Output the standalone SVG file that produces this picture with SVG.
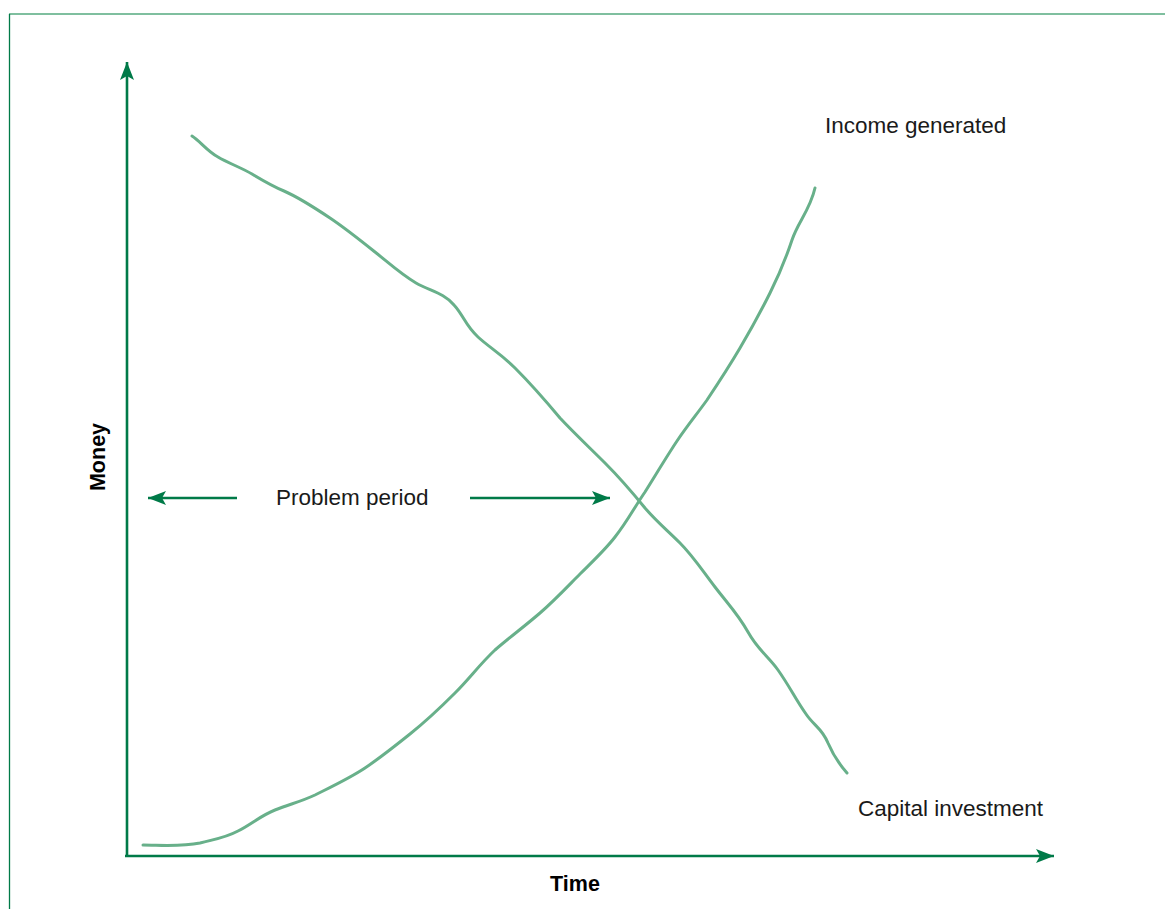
<svg xmlns="http://www.w3.org/2000/svg" width="1165" height="909" viewBox="0 0 1165 909">
<defs>
<style>
.axis{stroke:#007a48;stroke-width:2.6;fill:none}
.curve{stroke:#68b08a;stroke-width:3;fill:none;stroke-linecap:round;stroke-linejoin:round}
.lbl{font-family:"Liberation Sans",Arial,sans-serif;font-size:22.5px;fill:#1a1a1a}
.ttl{font-family:"Liberation Sans",Arial,sans-serif;font-size:21.5px;font-weight:bold;fill:#000}
</style>
<marker id="ahL" markerWidth="20" markerHeight="14" refX="18" refY="7" orient="auto" markerUnits="userSpaceOnUse">
<path d="M0,0 L18,7 L0,14 L4,7 Z" fill="#007a48"/>
</marker>
</defs>
<rect width="1165" height="909" fill="#fff"/>
<g id="frame">
<line x1="9" y1="14" x2="1165" y2="14" stroke="#7fbf9f" stroke-width="2"/>
<line x1="9.5" y1="14" x2="9.5" y2="909" stroke="#007a48" stroke-width="1.3"/>
</g>
<g id="connectors">
<line class="axis" x1="127" y1="856" x2="127" y2="62" marker-end="url(#ahL)"/>
<line class="axis" x1="125" y1="856" x2="1054" y2="856" marker-end="url(#ahL)"/>
<line class="axis" x1="237" y1="498" x2="148" y2="498" marker-end="url(#ahL)"/>
<line class="axis" x1="470" y1="498" x2="610" y2="498" marker-end="url(#ahL)"/>
</g>
<g id="capital-curve">
<path class="curve" d="M192,136 C200,141 207,151 218,157 C228,163 242,168 252,174 C262,180 272,186 284,191 C300,198 315,208 330,218 C345,228 360,240 375,252 C390,264 402,275 416,283 C430,291 444,293 454,305 C464,316 465,325 478,337 C490,348 500,353 515,368 C530,383 545,400 560,418 C575,434 590,448 605,463 C620,478 632,492 645,508 C657,522 667,530 680,543 C693,556 702,570 715,587 C728,604 738,614 748,632 C758,650 768,656 778,670 C790,687 796,700 806,714 C814,726 822,728 828,743 C834,757 840,765 847,773"/>
</g>
<g id="income-curve">
<path class="curve" d="M143,845 C160,845 180,847 200,843 C215,839 225,838 238,831 C252,824 260,816 275,810 C290,804 300,802 315,795 C335,785 350,778 365,768 C380,758 395,746 410,734 C425,722 440,708 455,693 C470,678 480,664 495,650 C510,637 525,626 540,613 C555,600 568,586 580,574 C592,562 605,550 615,537 C627,522 634,508 645,492 C655,476 667,456 677,441 C687,426 697,414 707,400 C719,382 730,365 740,348 C750,331 760,313 770,293 C780,273 786,258 792,240 C798,222 810,210 815,188"/>
</g>
<g id="labels">
<text class="lbl" x="825" y="133">Income generated</text>
<text class="lbl" x="858" y="816">Capital investment</text>
<text class="lbl" x="276" y="505">Problem period</text>
<text class="ttl" x="575" y="891" text-anchor="middle">Time</text>
<text class="ttl" x="105" y="457" text-anchor="middle" transform="rotate(-90 105 457)">Money</text>
</g>
</svg>
